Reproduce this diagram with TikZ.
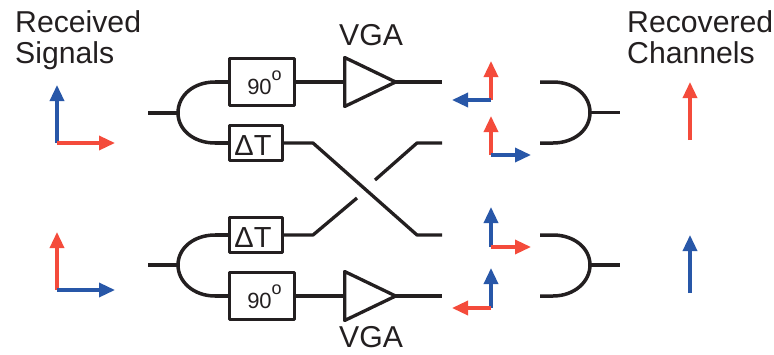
\documentclass[tikz,border=0pt]{standalone}
\usepackage{fontspec}
\setmainfont{Liberation Sans}
\usetikzlibrary{arrows.meta,shapes.geometric}
\definecolor{inkc}{HTML}{231F20}
\definecolor{redc}{HTML}{F44B3B}
\definecolor{bluec}{HTML}{2857A8}
\tikzset{
  wire/.style={draw=inkc,line width=3.3pt,line join=round},
  hyb/.style={draw=inkc,line width=3.5pt},
  boxn/.style={draw=inkc,line width=3.3pt,line join=round,rectangle,inner sep=0pt,text=inkc,text height=24pt,text depth=0pt,align=center},
  phasebox/.style={boxn,minimum width=65pt,minimum height=47pt,font=\fontsize{22}{22}\selectfont},
  delaybox/.style={boxn,minimum width=53pt,minimum height=35pt,font=\fontsize{29}{29}\selectfont},
  amp/.style={draw=inkc,line width=3.3pt,line join=round,isosceles triangle,isosceles triangle stretches,minimum width=49pt,minimum height=51pt,inner sep=0pt},
  lab/.style={inner sep=0pt,text=inkc,font=\fontsize{30.2}{31}\selectfont},
  vec/.style={line width=3.4pt,-{Triangle[length=16pt,width=14pt]}},
  redv/.style={vec,draw=redc,color=redc},
  bluev/.style={vec,draw=bluec,color=bluec}
}
\newcommand{\phasetxt}{\hspace*{5pt}90\raisebox{13.5pt}{\fontsize{18}{18}\selectfont o}}
\newcommand{\delaytxt}{ΔT\hspace*{6pt}}
\begin{document}
\begin{tikzpicture}[x=1pt,y=-1pt]
\useasboundingbox (0,0) rectangle (774,354);
% labels
\node[lab,anchor=base west] (recv1) at (15,32) {Received};
\node[lab,anchor=base west] (recv2) at (15,63) {Signals};
\node[lab,anchor=base west] (reco1) at (627,32) {Recovered};
\node[lab,anchor=base west] (reco2) at (627,63) {Channels};
\node[lab,anchor=base] (vgat) at (371,45) {VGA};
\node[lab,anchor=base] (vgab) at (371,347.5) {VGA};
% boxes
\node[phasebox] (pa) at (262,82) {\phasetxt};
\node[delaybox] (da) at (256,143) {\delaytxt};
\node[delaybox] (db) at (256,235) {\delaytxt};
\node[phasebox] (pb) at (262,296) {\phasetxt};
% amplifiers
\node[amp,anchor=lower side] (aa) at (343,82) {};
\node[amp,anchor=lower side] (ab) at (343,296) {};
% coordinates: left hybrids
\coordinate (ina) at (148,113);
\coordinate (tipa) at (178,113);
\coordinate (inb) at (148,265);
\coordinate (tipb) at (178,265);
% arms
\coordinate (ata) at (215,82);
\coordinate (atb) at (215,143);
\coordinate (bta) at (215,235);
\coordinate (btb) at (215,296);
% outputs
\coordinate (oa) at (442,82);
\coordinate (ob) at (442,296);
\coordinate (c1) at (313,143);
\coordinate (c2) at (417,235);
\coordinate (c3) at (442,235);
\coordinate (d1) at (313,235);
\coordinate (d2) at (357,198);
\coordinate (e1) at (375,180);
\coordinate (e2) at (417,143);
\coordinate (e3) at (442,143);
% right hybrids
\coordinate (ra1) at (540,82);
\coordinate (ra2) at (553,82);
\coordinate (ra3) at (553,143);
\coordinate (ra4) at (540,143);
\coordinate (rat) at (590,112.5);
\coordinate (rao) at (620,112.5);
\coordinate (rb1) at (540,235);
\coordinate (rb2) at (553,235);
\coordinate (rb3) at (553,296);
\coordinate (rb4) at (540,296);
\coordinate (rbt) at (590,265);
\coordinate (rbo) at (620,265);
% wires
\draw[wire] (ina) -- (tipa);
\draw[wire] (inb) -- (tipb);
\draw[hyb] (ata) .. controls (194,82) and (178,95) .. (tipa) .. controls (178,130) and (194,143) .. (atb);
\draw[hyb] (bta) .. controls (194,235) and (178,248) .. (tipb) .. controls (178,282) and (194,296) .. (btb);
\draw[wire] (ata) -- (pa.west);
\draw[wire] (atb) -- (da.west);
\draw[wire] (bta) -- (db.west);
\draw[wire] (btb) -- (pb.west);
\draw[wire] (pa.east) -- (aa.lower side);
\draw[wire] (pb.east) -- (ab.lower side);
\draw[wire] ([xshift=-6pt]aa.apex) -- (oa);
\draw[wire] ([xshift=-6pt]ab.apex) -- (ob);
\draw[wire] (da.east) -- (c1) -- (c2) -- (c3);
\draw[wire] (db.east) -- (d1) -- (d2);
\draw[wire] (e1) -- (e2) -- (e3);
\draw[hyb] (ra1) -- (ra2) .. controls (574,82) and (590,95) .. (rat) .. controls (590,130) and (574,143) .. (ra3) -- (ra4);
\draw[hyb] (rb1) -- (rb2) .. controls (574,235) and (590,248) .. (rbt) .. controls (590,282) and (574,296) .. (rb3) -- (rb4);
\draw[wire] (rat) -- (rao);
\draw[wire] (rbt) -- (rbo);
% polarisation vectors
\coordinate (o1) at (57,143);
\coordinate (o1u) at (57,85);
\coordinate (o1r) at (115,143);
\draw[bluev] (o1) -- (o1u);
\draw[redv] (o1) -- (o1r);
\coordinate (o2) at (57,290);
\coordinate (o2u) at (57,232);
\coordinate (o2r) at (115,290);
\draw[redv] (o2) -- (o2u);
\draw[bluev] (o2) -- (o2r);
\coordinate (m1) at (491,100);
\coordinate (m1u) at (491,61);
\coordinate (m1l) at (452,100);
\draw[redv] (m1) -- (m1u);
\draw[bluev] (m1) -- (m1l);
\coordinate (m2) at (491,155);
\coordinate (m2u) at (491,116);
\coordinate (m2r) at (531,155);
\draw[redv] (m2) -- (m2u);
\draw[bluev] (m2) -- (m2r);
\coordinate (m3) at (491,247);
\coordinate (m3u) at (491,207);
\coordinate (m3r) at (531,247);
\draw[bluev] (m3) -- (m3u);
\draw[redv] (m3) -- (m3r);
\coordinate (m4) at (491,308);
\coordinate (m4u) at (491,268);
\coordinate (m4l) at (452,308);
\draw[bluev] (m4) -- (m4u);
\draw[redv] (m4) -- (m4l);
\coordinate (r1) at (690,140);
\coordinate (r1u) at (690,82);
\draw[redv] (r1) -- (r1u);
\coordinate (r2) at (690,293);
\coordinate (r2u) at (690,235);
\draw[bluev] (r2) -- (r2u);
\end{tikzpicture}
\end{document}
